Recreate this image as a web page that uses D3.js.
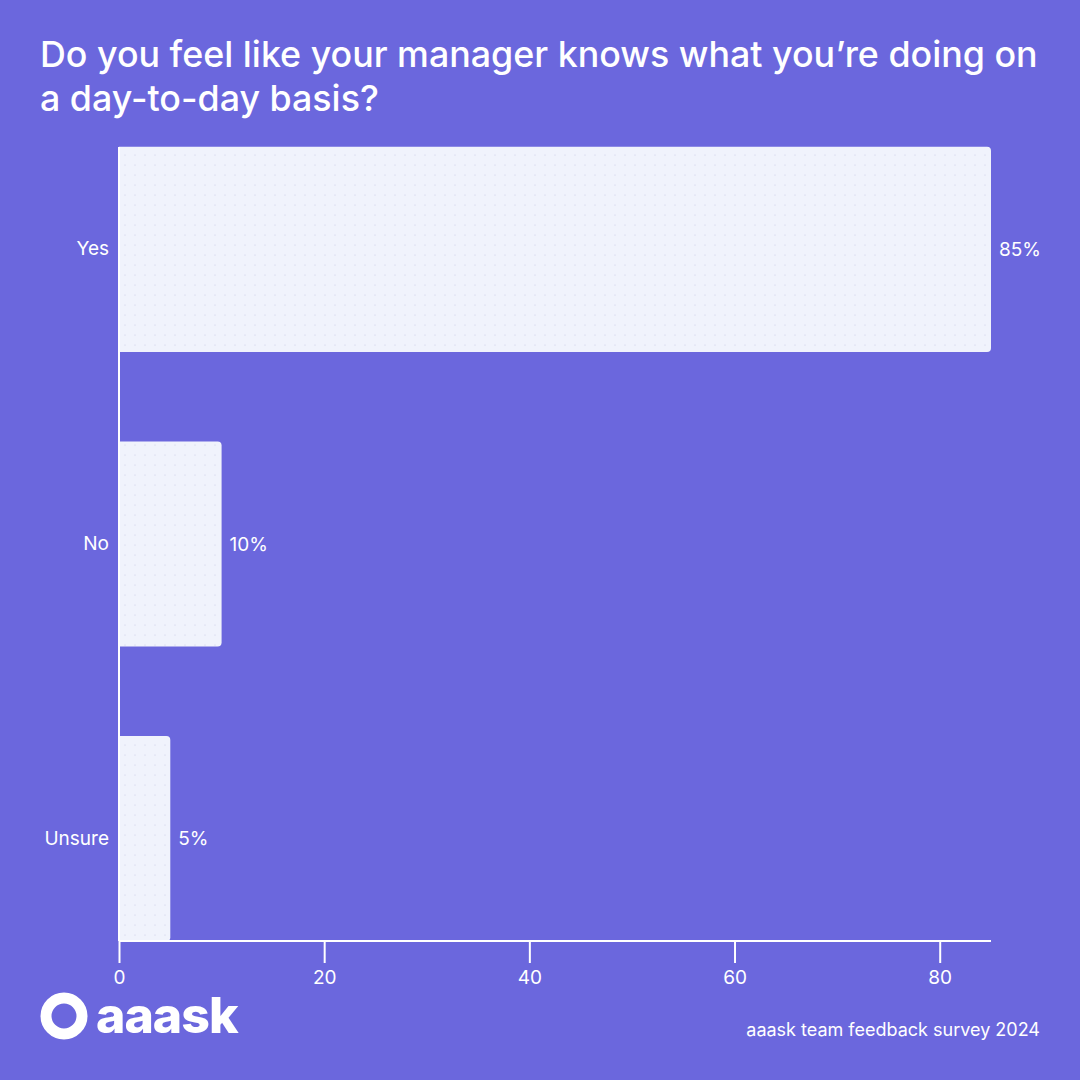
<!DOCTYPE html>
<html><head><meta charset="utf-8">
<script src="https://cdn.jsdelivr.net/npm/d3@7"></script>
<style>body{margin:0;background:#6b67dd;font-family:Inter,sans-serif}</style>
</head><body>
<svg id="c" width="1080" height="1080"></svg>
<script>
const categories = ["Yes","No","Unsure"];
const values = [85,10,5];
const ticks = [0,20,40,60,80];

const svg = d3.select("#c");
svg.append("rect").attr("width",1080).attr("height",1080).attr("fill","#6b67dd");
const defs = svg.append("defs");
const pat = defs.append("pattern").attr("id","dots").attr("width",10).attr("height",10).attr("patternUnits","userSpaceOnUse");
pat.append("rect").attr("width",10).attr("height",10).attr("fill","#f0f3fc");
pat.append("circle").attr("cx",5).attr("cy",5).attr("r",0.6).attr("fill","#c9cbe8");

svg.append("text").attr("x",40).attr("y",67).attr("fill","#fff").attr("font-size",35.8).attr("font-weight",500).text("Do you feel like your manager knows what you’re doing on");
svg.append("text").attr("x",40).attr("y",111).attr("fill","#fff").attr("font-size",35.8).attr("font-weight",500).text("a day-to-day basis?");

const x = d3.scaleLinear().domain([0,85]).range([119,991]);
const y = d3.scaleBand().domain(categories).range([102,986]).paddingInner(0.304).paddingOuter(0.152);

svg.selectAll(".bar").data(categories).join("path").attr("fill","url(#dots)")
  .attr("d",(c,i)=>{const x0=x(0),x1=x(values[i]),y0=y(c),y1=y0+y.bandwidth(),r=4;
    return `M${x0},${y0}H${x1-r}Q${x1},${y0} ${x1},${y0+r}V${y1-r}Q${x1},${y1} ${x1-r},${y1}H${x0}Z`;});

svg.selectAll(".val").data(categories).join("text").attr("fill","#fff").attr("font-size",19)
  .attr("x",(c,i)=>x(values[i])+8).attr("y",c=>y(c)+y.bandwidth()/2).attr("dy","0.35em")
  .text((c,i)=>values[i]+"%");

const ya = svg.append("g").attr("transform","translate(119,0)").call(d3.axisLeft(y).tickSize(0).tickPadding(10));
ya.select(".domain").attr("stroke","#fff").attr("stroke-width",2).attr("d","M0,147V941");
ya.selectAll("text").attr("fill","#fff").attr("font-size",19).attr("font-family","Inter");

const xa = svg.append("g").attr("transform","translate(0,941)").call(d3.axisBottom(x).tickValues(ticks).tickSize(22).tickPadding(8));
xa.select(".domain").attr("stroke","#fff").attr("stroke-width",2).attr("d","M119,0H991");
xa.selectAll("line").attr("stroke","#fff").attr("stroke-width",2);
xa.selectAll("text").attr("fill","#fff").attr("font-size",19).attr("font-family","Inter");

// logo
const lg = svg.append("g");
lg.append("circle").attr("cx",64).attr("cy",1016).attr("r",18).attr("fill","none").attr("stroke","#fff").attr("stroke-width",11);
lg.append("text").attr("x",96).attr("y",1033).attr("fill","#fff").attr("font-size",50).attr("font-weight",800).attr("letter-spacing",-1).text("aaask");

svg.append("text").attr("x",1040).attr("y",1036).attr("text-anchor","end").attr("fill","#fff").attr("font-size",18).text("aaask team feedback survey 2024");
</script></body></html>
